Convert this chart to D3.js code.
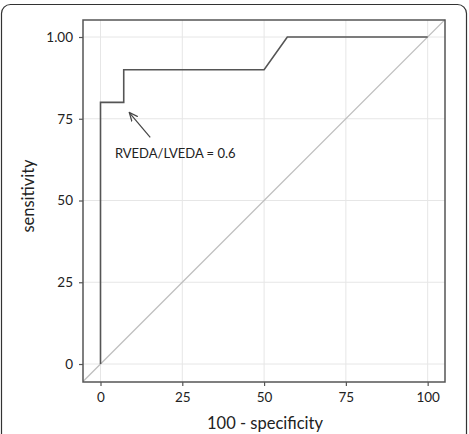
<!DOCTYPE html>
<html><head><meta charset="utf-8">
<script src="https://cdn.jsdelivr.net/npm/d3@7"></script>
<style>body{margin:0;background:#fff}svg{display:block}</style>
</head><body>
<script>
const rocX = [0, 0, 7.1, 7.1, 50, 57.1, 100];
const rocY = [0, 80, 80, 90, 90, 100, 100];
const xTicks = [0, 25, 50, 75, 100];
const yTicks = [0, 25, 50, 75, 100];
const yTickLabels = ["0", "25", "50", "75", "1.00"];
const xTickLabels = ["0", "25", "50", "75", "100"];
const annotation = "RVEDA/LVEDA = 0.6";

const W = 469, H = 434;
const svg = d3.select("body").append("svg").attr("width", W).attr("height", H);
const font = "Lato, 'Open Sans', sans-serif";

// outer rounded frame
svg.append("rect").attr("x", 1.5).attr("y", 4.5).attr("width", 465).attr("height", 445)
  .attr("rx", 9).attr("fill", "none").attr("stroke", "#333").attr("stroke-width", 1.2);

const L = 83, R = 445, T = 20, B = 382;
const x = d3.scaleLinear().domain([-5.35, 105.3]).range([L, R]);
const y = d3.scaleLinear().domain([-5.5, 105.2]).range([B, T]);

const g = svg.append("g");
// grid
g.selectAll(".gx").data(xTicks).join("line")
  .attr("x1", d => x(d)).attr("x2", d => x(d)).attr("y1", T).attr("y2", B)
  .attr("stroke", "#e6e6e6").attr("stroke-width", 1);
g.selectAll(".gy").data(yTicks).join("line")
  .attr("y1", d => y(d)).attr("y2", d => y(d)).attr("x1", L).attr("x2", R)
  .attr("stroke", "#e6e6e6").attr("stroke-width", 1);

// diagonal across the panel
g.append("line").attr("x1", x(-5.35)).attr("y1", y(-5.35)).attr("x2", x(105.3)).attr("y2", y(105.3))
  .attr("stroke", "#bdbdbd").attr("stroke-width", 1.2);

// ROC curve
const pts = rocX.map((v, i) => [v, rocY[i]]);
g.append("path").datum(pts)
  .attr("d", d3.line().x(d => x(d[0])).y(d => y(d[1])))
  .attr("fill", "none").attr("stroke", "#555").attr("stroke-width", 1.6);

// axes
const xAxis = d3.axisBottom(x).tickValues(xTicks).tickFormat((d, i) => xTickLabels[i]).tickSize(4).tickPadding(6);
const yAxis = d3.axisLeft(y).tickValues(yTicks).tickFormat((d, i) => yTickLabels[i]).tickSize(4).tickPadding(6);
const gx = svg.append("g").attr("transform", `translate(0,${B})`).call(xAxis);
const gy = svg.append("g").attr("transform", `translate(${L},0)`).call(yAxis);
[gx, gy].forEach(a => {
  a.select(".domain").remove();
  a.selectAll(".tick line").attr("stroke", "#555").attr("stroke-width", 1.2);
  a.selectAll(".tick text").attr("fill", "#222").style("font-family", font).style("font-size", "13.5px");
});

// panel border
svg.append("rect").attr("x", L).attr("y", T).attr("width", R - L).attr("height", B - T)
  .attr("fill", "none").attr("stroke", "#555").attr("stroke-width", 1.5);

// annotation
svg.append("defs").append("marker").attr("id", "arr").attr("viewBox", "0 0 10 10")
  .attr("refX", 9).attr("refY", 5).attr("markerWidth", 8).attr("markerHeight", 8)
  .attr("orient", "auto").append("path").attr("d", "M0,1 L9,5 L0,9")
  .attr("fill", "none").attr("stroke", "#444").attr("stroke-width", 1.3);
svg.append("line").attr("x1", x(15.2)).attr("y1", y(69.3)).attr("x2", x(8.8)).attr("y2", y(76.9))
  .attr("stroke", "#444").attr("stroke-width", 1.2).attr("marker-end", "url(#arr)");
svg.append("text").attr("x", x(4.4)).attr("y", y(63))
  .style("font-family", font).style("font-size", "13px").attr("fill", "#222").text(annotation);

// axis titles
svg.append("text").attr("x", (L + R) / 2 + 1).attr("y", 429).attr("text-anchor", "middle")
  .style("font-family", font).style("font-size", "16.5px").attr("fill", "#222").text("100 - specificity");
svg.append("text").attr("transform", `translate(34,196) rotate(-90)`).attr("text-anchor", "middle")
  .style("font-family", font).style("font-size", "16.5px").attr("fill", "#222").text("sensitivity");
</script>
</body></html>
